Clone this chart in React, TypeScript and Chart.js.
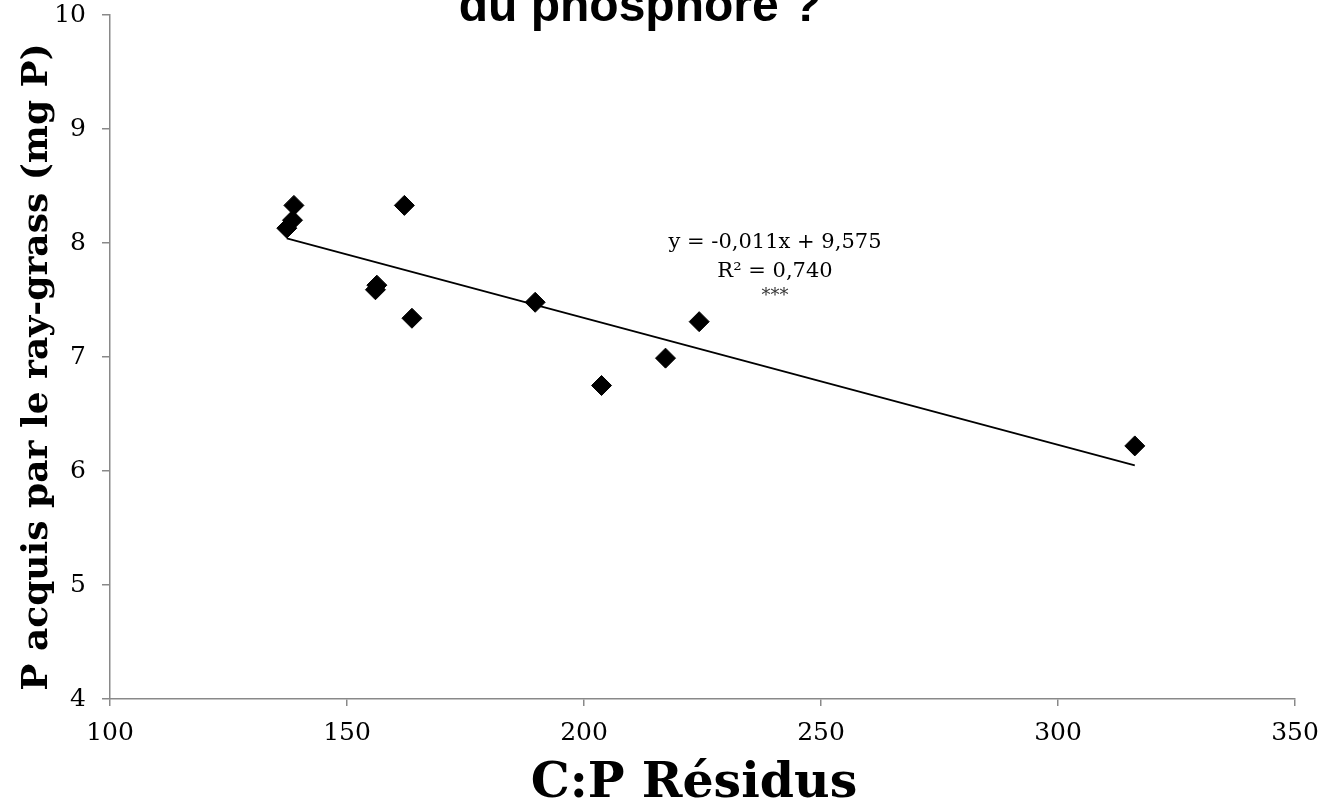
import React, { useEffect, useRef } from "react";
import { Chart, registerables } from "chart.js";

Chart.register(...registerables);

// ---- data ----
const cpResidus = [138.8, 138.5, 137.3, 162.1, 156.3, 156.0, 163.7, 189.7, 224.3, 217.2, 203.7, 316.2];
const pAcquis = [8.33, 8.2, 8.13, 8.33, 7.63, 7.59, 7.34, 7.48, 7.31, 6.99, 6.75, 6.22];
const trendX = [137.3, 316.2];
const trendY = [8.04, 6.05];
const xTickValues = [100, 150, 200, 250, 300, 350];
const yTickValues = [4, 5, 6, 7, 8, 9, 10];
const titleText = "du phosphore ?";
const xTitleText = "C:P Résidus";
const yTitleText = "P acquis par le ray-grass (mg P)";
const equationLines = ["y = -0,011x + 9,575", "R² = 0,740", "***"];
const equationAnchor = [240.3, 8.0];

const SERIF = "'DejaVu Serif', Georgia, serif";
const AXIS_GRAY = "#898989";

const textPlugin = {
  id: "textPlugin",
  afterDraw(chart: any) {
    const ctx = chart.ctx;
    const xs = chart.scales.x;
    const ys = chart.scales.y;
    ctx.save();
    ctx.fillStyle = "#000";
    // clipped title (top line only partly visible)
    ctx.font = "bold 48px 'Liberation Sans', Arial, sans-serif";
    ctx.textAlign = "center";
    ctx.textBaseline = "alphabetic";
    ctx.fillText(titleText, 640, 21);

    // x axis title
    ctx.font = `bold 49px ${SERIF}`;
    ctx.fillText(xTitleText, 694, 797);

    // y axis title
    ctx.save();
    ctx.translate(47, 367);
    ctx.rotate(-Math.PI / 2);
    ctx.font = `bold 36px ${SERIF}`;
    ctx.textAlign = "center";
    ctx.fillText(yTitleText, 0, 0);
    ctx.restore();

    // equation annotation
    const ax = xs.getPixelForValue(equationAnchor[0]);
    const ay = ys.getPixelForValue(equationAnchor[1]);
    ctx.textAlign = "center";
    ctx.textBaseline = "middle";
    ctx.font = `21px ${SERIF}`;
    ctx.fillText(equationLines[0], ax, ay);
    ctx.fillText(equationLines[1], ax, ay + 29);
    ctx.font = `18px ${SERIF}`;
    ctx.fillStyle = "#333";
    ctx.fillText(equationLines[2], ax, ay + 53);
    ctx.restore();
  },
};

export default function App() {
  const ref = useRef<HTMLCanvasElement | null>(null);

  useEffect(() => {
    if (!ref.current) return;
    const points = cpResidus.map((x, i) => ({ x, y: pAcquis[i] }));
    const trend = trendX.map((x, i) => ({ x, y: trendY[i] }));
    const chart = new Chart(ref.current, {
      type: "scatter",
      data: {
        datasets: [
          {
            type: "line",
            data: trend,
            borderColor: "#000",
            borderWidth: 1.8,
            pointRadius: 0,
            fill: false,
          } as any,
          {
            type: "scatter",
            data: points,
            pointStyle: "rectRot",
            pointRadius: 10,
            pointBackgroundColor: "#000",
            pointBorderColor: "#000",
            pointBorderWidth: 1,
          } as any,
        ],
      },
      options: {
        responsive: false,
        animation: false,
        layout: { padding: { top: 15, right: 27, left: 0, bottom: 0 } },
        plugins: {
          legend: { display: false },
          tooltip: { enabled: false },
          title: { display: false },
        },
        scales: {
          x: {
            type: "linear",
            min: 100,
            max: 350,
            afterBuildTicks: (s: any) => {
              s.ticks = xTickValues.map((v) => ({ value: v }));
            },
            afterFit: (s: any) => {
              s.height = 103;
              s.paddingLeft = 0;
              s.paddingRight = 0;
            },
            grid: {
              drawOnChartArea: false,
              drawTicks: true,
              tickLength: 7,
              color: AXIS_GRAY,
              lineWidth: 1.5,
            },
            border: { color: AXIS_GRAY, width: 1.5 },
            ticks: {
              color: "#000",
              font: { family: SERIF, size: 25 },
              padding: 12,
              maxRotation: 0,
            },
          },
          y: {
            type: "linear",
            min: 4,
            max: 10,
            afterBuildTicks: (s: any) => {
              s.ticks = yTickValues.map((v) => ({ value: v }));
            },
            afterFit: (s: any) => {
              s.width = 110;
              s.paddingTop = 0;
              s.paddingBottom = 0;
            },
            grid: {
              drawOnChartArea: false,
              drawTicks: true,
              tickLength: 8,
              color: AXIS_GRAY,
              lineWidth: 1.5,
            },
            border: { color: AXIS_GRAY, width: 1.5 },
            ticks: {
              color: "#000",
              font: { family: SERIF, size: 25 },
              padding: 16,
            },
          },
        },
      } as any,
      plugins: [textPlugin],
    });
    return () => chart.destroy();
  }, []);

  return (
    <div style={{ position: "absolute", left: 0, top: 0, width: 1322, height: 802, background: "#fff" }}>
      <canvas ref={ref} width={1322} height={802} style={{ display: "block" }} />
    </div>
  );
}
